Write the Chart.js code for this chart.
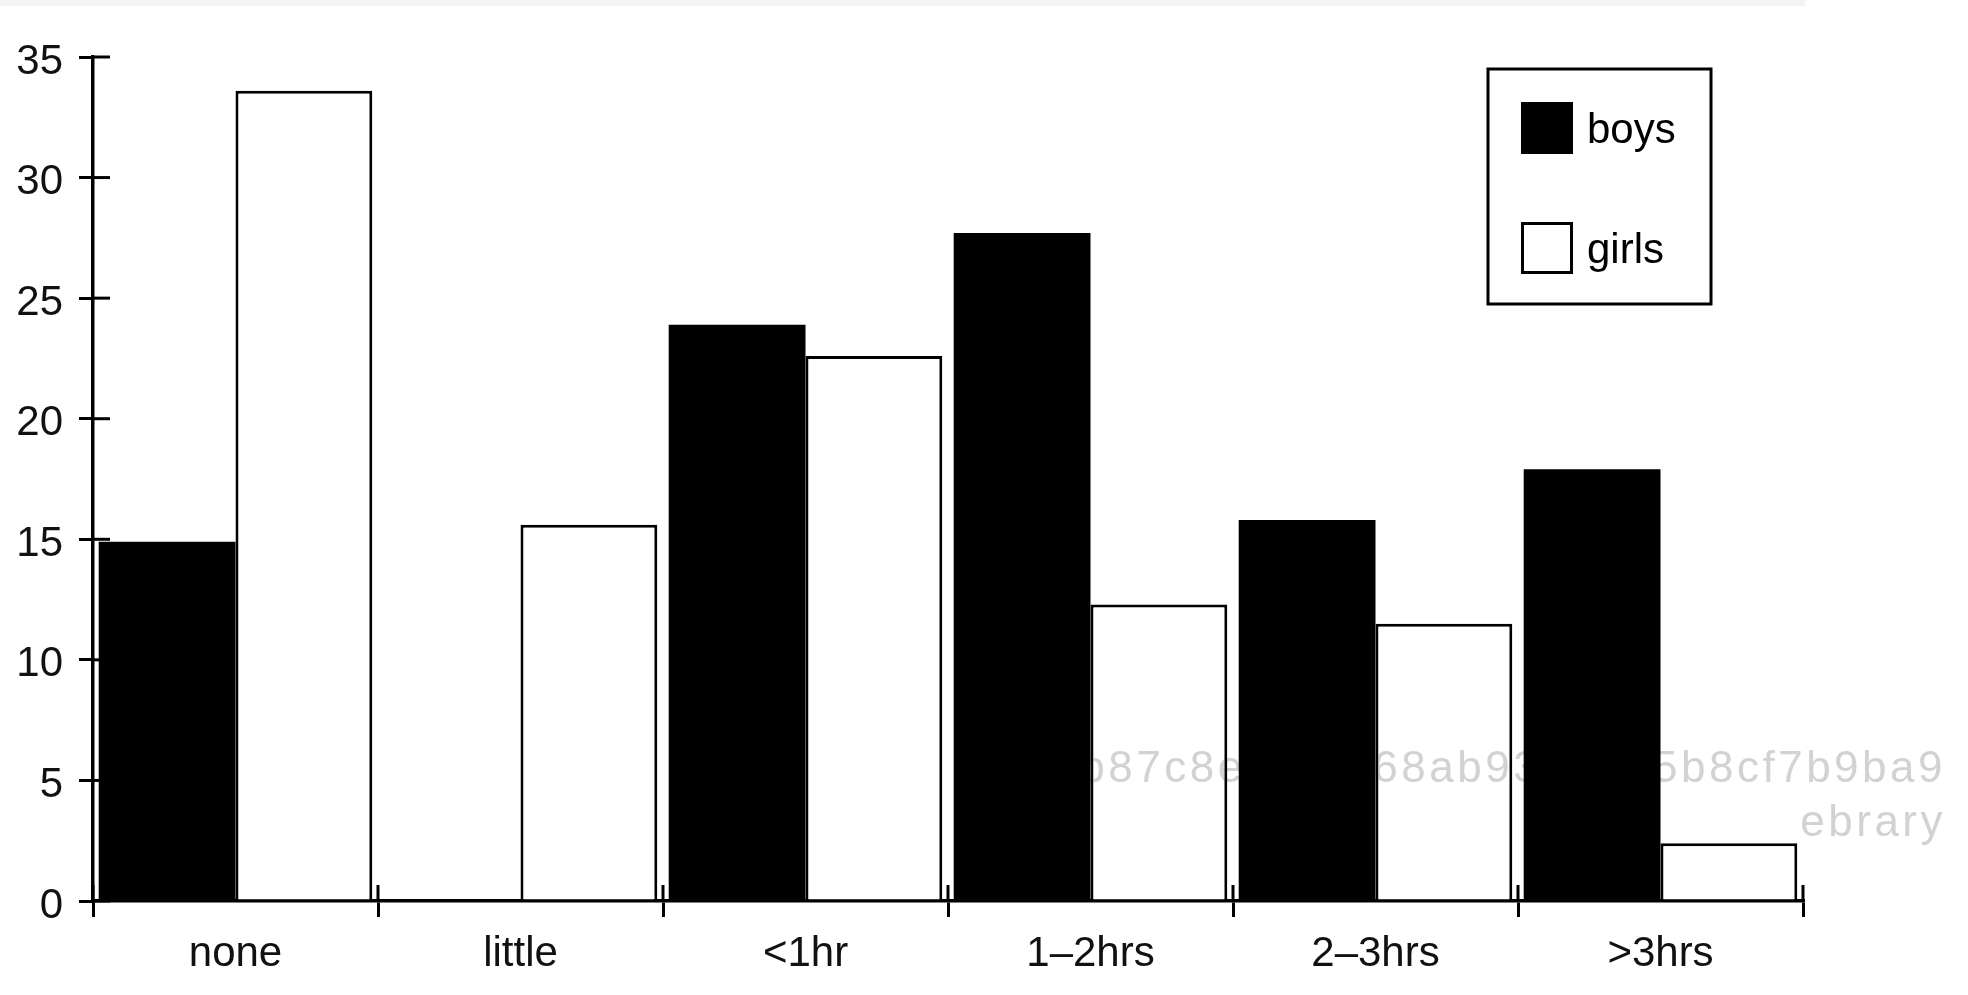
<!DOCTYPE html>
<html>
<head>
<meta charset="utf-8">
<script src="https://cdn.jsdelivr.net/npm/chart.js@4.4.1/dist/chart.umd.min.js"></script>
<style>
body{margin:0;background:#fff;}
#wrap{width:1968px;height:995px;position:relative;}
</style>
</head>
<body>
<div id="wrap"><canvas id="tvChart"></canvas></div>
<script>
// ================= DATA =================
const categories = ['none','little','<1hr','1\u20132hrs','2\u20133hrs','>3hrs'];
const boys  = [14.9, 0, 23.9, 27.7, 15.8, 17.9];
const girls = [33.6, 15.6, 22.6, 12.3, 11.5, 2.4];
const yMin = 0, yMax = 35, yStep = 5;

// scan watermark (middle bits are hidden under the black bars anyway)
const watermark = ['a2e4b87c8ed0f1a68ab93e1d05b8cf7b9ba9','ebrary'];

const FONT = '"Liberation Sans", Arial, Helvetica, sans-serif';


// ================= PLUGINS =================
// tick marks cross the axis line in the original, so draw the inner half too
const innerTicks = {
id:'innerTicks',
afterDraw(chart){
const ctx = chart.ctx;
const x = chart.scales.x, y = chart.scales.y;
ctx.save();
ctx.strokeStyle = '#000';
ctx.lineWidth = 3;
y.ticks.forEach((t,i)=>{
const py = y.getPixelForTick(i);
ctx.beginPath();
ctx.moveTo(x.left, py);
ctx.lineTo(x.left+17, py);
ctx.stroke();
});
for(let i=0;i<=categories.length;i++){
const px = x.getPixelForValue(i-0.5);
ctx.beginPath();
ctx.moveTo(px, y.bottom);
ctx.lineTo(px, y.bottom-16);
ctx.stroke();
}
ctx.restore();
}
};

// boxed legend top right
const boxLegend = {
id:'boxLegend',
afterDraw(chart){
const ctx = chart.ctx;
ctx.save();
ctx.lineWidth = 3;
ctx.strokeStyle = '#000';
ctx.strokeRect(1488, 69, 223, 235);
ctx.font = '42px '+FONT;
ctx.textBaseline = 'alphabetic';
chart.data.datasets.forEach((ds,i)=>{
const top = 102 + i*120;
ctx.fillStyle = ds.backgroundColor;
ctx.fillRect(1521, top, 52, 52);
ctx.lineWidth = 3;
ctx.strokeRect(1522.5, top+1.5, 49, 49);
ctx.fillStyle = '#000';
ctx.fillText(ds.label, 1587, top+41);
});
ctx.restore();
}
};

// scanned page watermark, only shows on white
const stamp = {
id:'stamp',
afterDraw(chart){
const ctx = chart.ctx;
ctx.save();
ctx.globalCompositeOperation = 'darken';
ctx.fillStyle = '#d2d2d2';
ctx.font = '44px '+FONT;
ctx.letterSpacing = '3.5px';
ctx.textAlign = 'right';
ctx.fillText(watermark[0], 1946, 782);
ctx.fillText(watermark[1], 1946, 836);
// faint edge of the scan at the top
ctx.globalCompositeOperation = 'source-over';
ctx.fillStyle = '#f3f3f3';
ctx.fillRect(0, 0, 1805, 6);
ctx.restore();
}
};


// ================= CHART =================
const ctx = document.getElementById('tvChart');

const tvChart = new Chart(ctx,{
type:'bar',
data:{
labels:categories,
datasets:[{
label:'boys',
data:boys,
backgroundColor:'#000',
borderColor:'#000',
borderWidth:0
},{
label:'girls',
data:girls,
backgroundColor:'#fff',
borderColor:'#000',
borderWidth:3
}]
},
options:{
responsive:true,
maintainAspectRatio:false,
animation:false,
layout:{padding:{left:0,right:165,top:57,bottom:0}},
datasets:{bar:{categoryPercentage:0.96,barPercentage:1}},
scales:{
x:{
grid:{offset:true,drawOnChartArea:false,tickLength:16,color:'#000',lineWidth:3},
border:{display:true,color:'#000',width:3.5},
ticks:{color:'#111',font:{family:FONT,size:42},padding:12,maxRotation:0},
afterFit(s){ s.height = 94; }
},
y:{
min:yMin,max:yMax,
grid:{drawOnChartArea:false,tickLength:14,color:'#000',lineWidth:3},
border:{display:true,color:'#000',width:3.5},
ticks:{stepSize:yStep,color:'#111',font:{family:FONT,size:42},padding:16,labelOffset:5},
afterFit(s){ s.width = 93; }
}
},
plugins:{
legend:{display:false},
tooltip:{enabled:false}
}
},
plugins:[stamp,innerTicks,boxLegend]
});
</script>
</body>
</html>
